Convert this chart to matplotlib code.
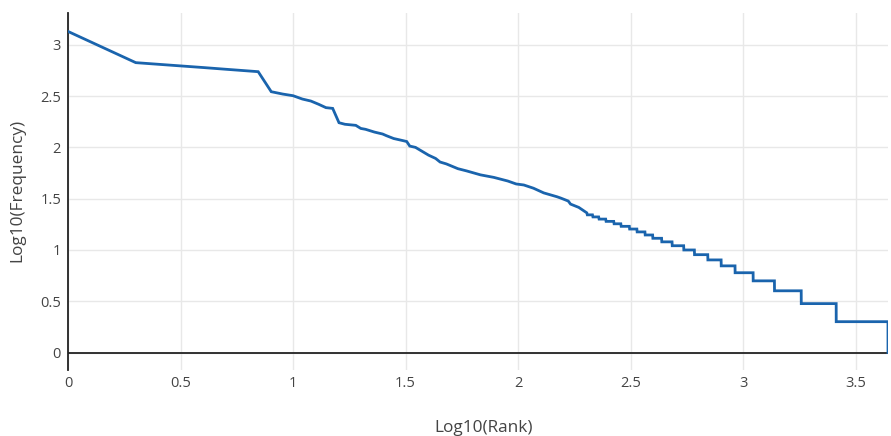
import numpy as np
import matplotlib
matplotlib.use("Agg")
import matplotlib.pyplot as plt

# Top-ranked words: rank and frequency
top_ranks = [1, 2, 3, 4, 5, 6, 7, 8, 9, 10, 11, 12, 13, 14, 15, 16, 17, 19, 20, 21,
             23, 25, 26, 28, 31, 32, 33, 35, 40, 43, 45, 48, 54, 59, 68, 78, 90, 98,
             106, 117, 130, 149, 155, 167, 171, 186, 202]
top_freqs = [1350, 670, 628, 600, 578, 561, 547, 349, 331, 319, 296, 283, 263, 244, 240, 174,
             168, 164, 153, 150, 141, 135, 130, 122, 116, 114, 103, 100, 84, 78, 72, 69,
             62, 59, 54, 51, 47, 44, 43, 40, 36, 33, 32, 30, 28, 26, 23]

# Tail: integer frequencies and the last rank holding each frequency
step_freqs = [22, 21, 20, 19, 18, 17, 16, 15, 14, 13, 12, 11, 10, 9, 8, 7, 6, 5, 4, 3, 2, 1]
step_last_rank = [214, 228, 245, 266, 286, 312, 337, 366, 396, 434, 483, 544, 607, 696,
                  798, 920, 1107, 1377, 1811, 2590, 4400, 4401]

x_ticks = [0, 0.5, 1, 1.5, 2, 2.5, 3, 3.5]
y_ticks = [0, 0.5, 1, 1.5, 2, 2.5, 3]

# Build the full rank/frequency polyline
ranks = list(top_ranks)
freqs = list(top_freqs)
prev_last = top_ranks[-1]
for f, last in zip(step_freqs, step_last_rank):
    first = prev_last + 1
    ranks.append(first)
    freqs.append(f)
    if last != first:
        ranks.append(last)
        freqs.append(f)
    prev_last = last

lx = np.log10(np.array(ranks, dtype=float))
ly = np.log10(np.array(freqs, dtype=float))

plt.rcParams['font.family'] = ['Open Sans', 'DejaVu Sans']

fig = plt.figure(figsize=(8.91, 4.36), dpi=100)
ax = fig.add_axes([68 / 891, 1 - 370 / 436, (888 - 68) / 891, (370 - 13) / 436])

ax.plot(lx, ly, color='#1a64ad', linewidth=2.0, solid_joinstyle='miter', zorder=3)

ax.set_xlim(0, lx.max())
ax.set_ylim(-0.17, 3.31)
ax.set_xticks(x_ticks)
ax.set_xticklabels([f"{t:g}" for t in x_ticks])
ax.set_yticks(y_ticks)
ax.set_yticklabels([f"{t:g}" for t in y_ticks])

ax.grid(True, color='#e8e8e8', linewidth=1)
ax.set_axisbelow(True)
ax.axhline(0, color='#222222', linewidth=1.3, zorder=2)

for s in ['top', 'right', 'bottom']:
    ax.spines[s].set_visible(False)
ax.spines['left'].set_color('#222222')
ax.spines['left'].set_linewidth(1.3)

ax.tick_params(axis='both', length=0, labelsize=10.5, colors='#444444')
ax.tick_params(axis='y', pad=5)
ax.tick_params(axis='x', pad=4)

fig.text(484 / 891, 1 - 428 / 436, 'Log10(Rank)', ha='center', va='center',
         fontsize=12.4, color='#444444')
fig.text(17 / 891, 1 - 190 / 436, 'Log10(Frequency)', ha='center', va='center',
         rotation=90, fontsize=12.4, color='#444444')

fig.savefig('out.png', dpi=100)
